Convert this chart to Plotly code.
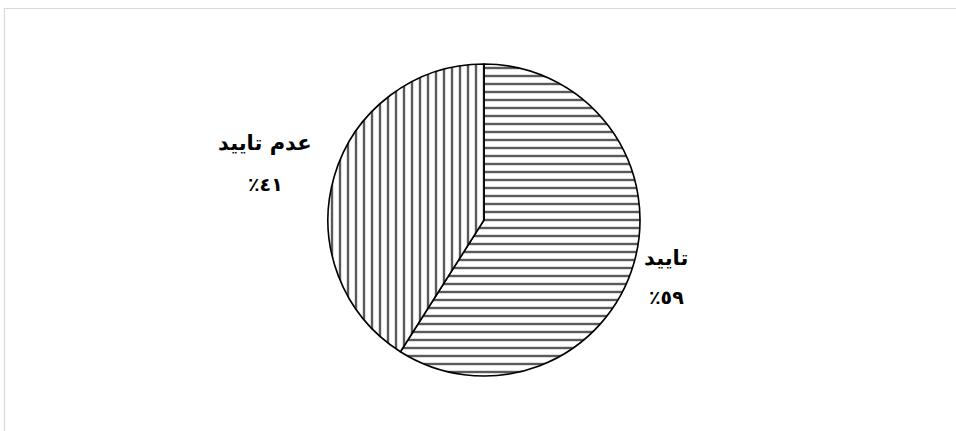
import plotly.graph_objects as go

labels = ["تایید", "عدم تایید"]
values = [59, 41]
patterns = ["-", "|"]

W, H = 956, 431
AR = str.maketrans("0123456789", "٠١٢٣٤٥٦٧٨٩")

def pct(v):
    return "٪" + str(v).translate(AR)

fig = go.Figure()
cx, cy, r = 484, 220, 156
fig.add_trace(go.Pie(
    labels=labels,
    values=values,
    sort=False,
    direction="clockwise",
    rotation=0,
    textinfo="none",
    hoverinfo="label+percent",
    showlegend=False,
    marker=dict(
        colors=["white", "white"],
        line=dict(color="black", width=1.6),
        pattern=dict(shape=patterns, fgcolor="#5a5a5a", bgcolor="white",
                     size=8, solidity=0.3),
    ),
    domain=dict(x=[(cx - r) / W, (cx + r) / W],
                y=[(H - cy - r) / H, (H - cy + r) / H]),
))

label_pos = [(666, 258, 297), (265, 143, 184)]
font_lab = dict(family="DejaVu Sans", size=21, color="black")
font_pct = dict(family="DejaVu Sans", size=19, color="black")
for lab, v, (x, y1, y2) in zip(labels, values, label_pos):
    fig.add_annotation(x=x / W, y=1 - y1 / H, xref="paper", yref="paper",
                       xanchor="center", yanchor="middle",
                       text="<b>" + lab + "</b>", showarrow=False, font=font_lab)
    fig.add_annotation(x=x / W, y=1 - y2 / H, xref="paper", yref="paper",
                       xanchor="center", yanchor="middle",
                       text="<b>" + pct(v) + "</b>", showarrow=False, font=font_pct)

fig.add_shape(type="rect", xref="paper", yref="paper",
              x0=4.5 / W, x1=1.05, y0=-0.05, y1=1 - 8.5 / H,
              line=dict(color="#d9d9d9", width=1.2), fillcolor="rgba(0,0,0,0)")

fig.update_layout(width=W, height=H, margin=dict(l=0, r=0, t=0, b=0),
                  paper_bgcolor="white", plot_bgcolor="white")
fig.write_html("out.html")
